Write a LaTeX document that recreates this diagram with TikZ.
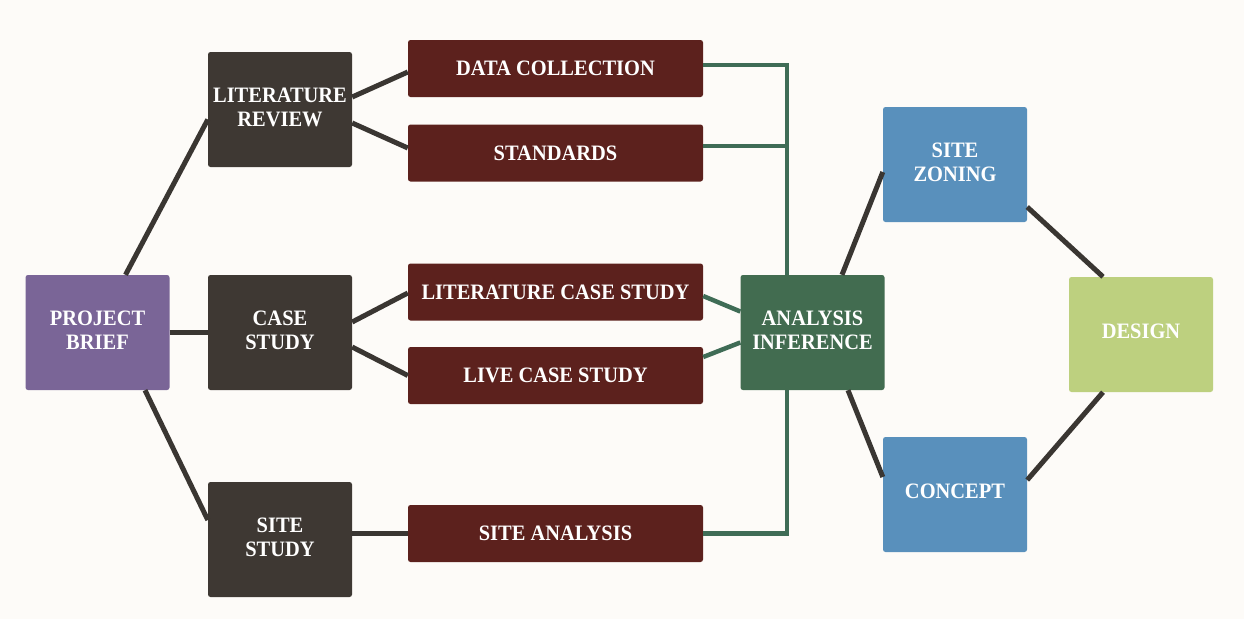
\documentclass[tikz,border=0pt]{standalone}
\usepackage{fontspec}
\setmainfont{Liberation Serif}[FakeStretch=0.93]
\definecolor{bgc}{HTML}{FDFBF8}
\definecolor{darkbox}{HTML}{3E3833}
\definecolor{maroon}{HTML}{5C211D}
\definecolor{purplebox}{HTML}{7A6597}
\definecolor{greenbox}{HTML}{426C50}
\definecolor{bluebox}{HTML}{5990BC}
\definecolor{limebox}{HTML}{BDD07F}
\definecolor{darkline}{HTML}{3A3632}
\definecolor{greenline}{HTML}{3F6C56}
\newcommand{\bt}[2][7pt]{\raisebox{#1}{\begin{tabular}{@{}c@{}}#2\end{tabular}}}
\begin{document}
\begin{tikzpicture}[x=1pt,y=-1pt,
  every node/.style={font=\fontsize{22}{24}\selectfont\bfseries, text=white, inner sep=0pt},
  sq/.style={rectangle, rounded corners=2.5pt, minimum width=144pt, minimum height=115pt},
  bar/.style={rectangle, rounded corners=2.5pt, fill=maroon, minimum width=295pt, minimum height=57pt},
  dl/.style={draw=darkline, line width=5pt},
  gl/.style={draw=greenline, line width=4.5pt}]
\fill[bgc] (0,0) rectangle (1244,619);
\useasboundingbox (0,0) rectangle (1244,619);
% nodes
\node[sq, fill=purplebox] (brief) at (97.5,332.5) {\bt{PROJECT\\BRIEF}};
\node[sq, fill=darkbox] (litrev) at (280,109.5) {\bt[10pt]{LITERATURE\\REVIEW}};
\node[sq, fill=darkbox] (case) at (280,332.5) {\bt{CASE\\STUDY}};
\node[sq, fill=darkbox] (sitest) at (280,539.5) {\bt[4pt]{SITE\\STUDY}};
\node[bar] (datac) at (555.5,68.5) {DATA COLLECTION};
\node[bar] (stand) at (555.5,153) {STANDARDS};
\node[bar] (lcs) at (555.5,292) {LITERATURE CASE STUDY};
\node[bar] (live) at (555.5,375.5) {LIVE CASE STUDY};
\node[bar] (sitean) at (555.5,533.5) {SITE ANALYSIS};
\node[sq, fill=greenbox] (anal) at (812.5,332.5) {\bt[11pt]{ANALYSIS\\INFERENCE}};
\node[sq, fill=bluebox] (zoning) at (955,164.5) {\bt{SITE\\ZONING}};
\node[sq, fill=limebox] (design) at (1141,334.5) {\bt[9pt]{DESIGN}};
\node[sq, fill=bluebox] (concept) at (955,494.5) {\bt[8pt]{CONCEPT}};
% dark connectors
\draw[dl] ([xshift=28pt]brief.north) -- ([yshift=-10pt]litrev.west);
\draw[dl] ([xshift=47.5pt]brief.south) -- ([yshift=19.5pt]sitest.west);
\draw[dl] (brief.east) -- (case.west);
\draw[dl] ([yshift=12.5pt]litrev.east) -- ([yshift=-3.5pt]datac.west);
\draw[dl] ([yshift=-13.5pt]litrev.east) -- ([yshift=5pt]stand.west);
\draw[dl] ([yshift=10.5pt]case.east) -- ([yshift=-1pt]lcs.west);
\draw[dl] ([yshift=-14.5pt]case.east) -- (live.west);
\draw[dl] ([yshift=6pt]sitest.east) -- (sitean.west);
% green connectors
\draw[gl] ([yshift=3.5pt]datac.east) -| ([xshift=-25.5pt]anal.north);
\draw[gl] ([yshift=7pt]stand.east) -| ([xshift=-25.5pt]anal.north);
\draw[gl] (sitean.east) -| ([xshift=-25.5pt]anal.south);
\draw[gl] ([yshift=-4pt]lcs.east) -- ([yshift=21pt]anal.west);
\draw[gl] ([yshift=18.5pt]live.east) -- ([yshift=-10pt]anal.west);
% right side
\draw[dl] ([xshift=29.5pt]anal.north) -- ([yshift=-7.5pt]zoning.west);
\draw[dl] ([xshift=35.5pt]anal.south) -- ([yshift=17.5pt]concept.west);
\draw[dl] ([yshift=-42.5pt]zoning.east) -- ([xshift=-38pt]design.north);
\draw[dl] ([xshift=-38pt]design.south) -- ([yshift=14.5pt]concept.east);
\end{tikzpicture}
\end{document}
